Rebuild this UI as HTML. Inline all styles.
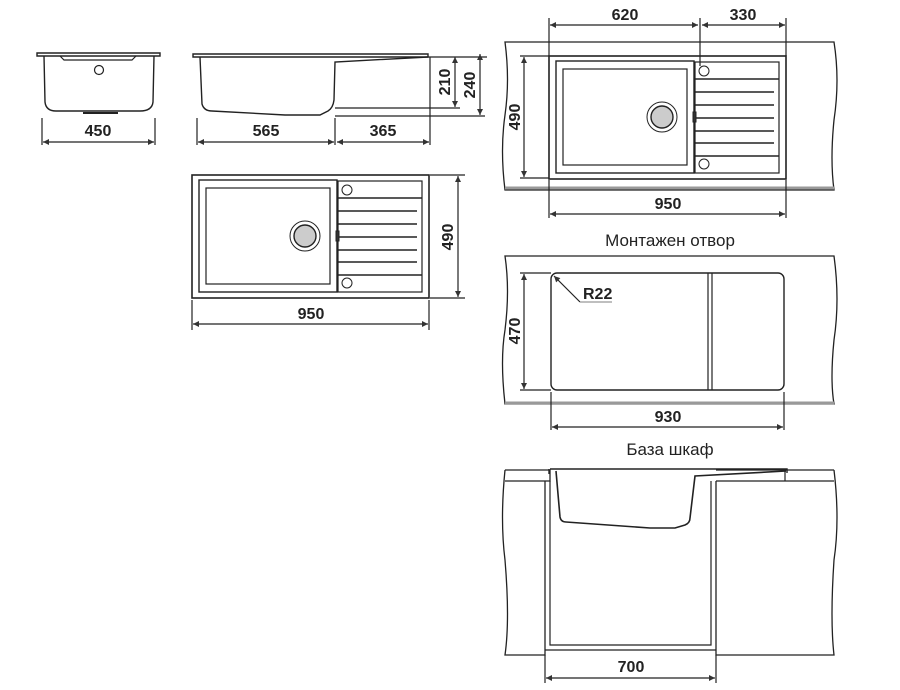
<!DOCTYPE html>
<html><head><meta charset="utf-8"><style>
html,body{margin:0;padding:0;background:#fff}
svg{display:block}
text{font-family:"Liberation Sans",sans-serif;fill:#222}
.b{font-weight:bold;font-size:16px}
</style></head><body>
<svg width="900" height="690" viewBox="0 0 900 690" xmlns="http://www.w3.org/2000/svg">
<defs>
<marker id="a" viewBox="0 0 10 10" refX="10" refY="5" markerWidth="7" markerHeight="5" orient="auto-start-reverse"><path d="M0,0L10,5L0,10z" fill="#333"/></marker>
<g id="plan" fill="none" stroke="#222">
<rect x="0" y="0" width="237" height="123" stroke-width="1.6"/>
<rect x="7" y="5" width="138" height="112" stroke-width="1.4"/>
<rect x="14" y="13" width="124" height="96" stroke-width="1.2"/>
<rect x="146" y="6" width="84" height="111" stroke-width="1.2"/>
<path d="M146,23H230M146,36H225M146,49H225M146,62H225M146,75H225M146,87H225M146,100H230" stroke-width="1.5"/>
<circle cx="155" cy="15" r="5"/><circle cx="155" cy="108" r="5"/>
<circle cx="113" cy="61" r="15"/><circle cx="113" cy="61" r="11" fill="#ccc" stroke-width="1.4"/>
<rect x="144" y="56" width="3" height="10" fill="#333"/>
</g>
</defs>
<g fill="none" stroke="#222" stroke-width="1.2">
<path d="M37,53H160V56H37Z" stroke-width="1.4"/>
<path d="M44,56L45,102Q46,111 56,111H140Q152,111 153,102L154,56" stroke-width="1.4"/>
<path d="M60,56L64,60H132L136,56" />
<circle cx="99" cy="70" r="4.5"/>
<path d="M83,113H118" stroke-width="2"/>
<path d="M42,118V145M155,118V145"/>
<line x1="43" y1="142" x2="154" y2="142" marker-start="url(#a)" marker-end="url(#a)"/>
<path d="M193,54H428V57H193Z" stroke-width="1.4"/>
<path d="M200,57L202,104Q204,111 212,111L285,115H320L328,111Q333,108 334,100L335,62L428,57" stroke-width="1.4"/>
<path d="M335,108H460M335,116H485M428,57H487M430,57V145M335,118V145M197,118V145"/>
<line x1="455" y1="57" x2="455" y2="107" marker-start="url(#a)" marker-end="url(#a)"/>
<line x1="480" y1="54" x2="480" y2="115" marker-start="url(#a)" marker-end="url(#a)"/>
<line x1="198" y1="142" x2="334" y2="142" marker-start="url(#a)" marker-end="url(#a)"/>
<line x1="337" y1="142" x2="429" y2="142" marker-start="url(#a)" marker-end="url(#a)"/>
<path d="M430,175H465M430,298H465M192,300V330M429,300V330"/>
<line x1="458" y1="176" x2="458" y2="297" marker-start="url(#a)" marker-end="url(#a)"/>
<line x1="193" y1="324" x2="428" y2="324" marker-start="url(#a)" marker-end="url(#a)"/>
<path d="M505,42H834Q840,80 834,120Q830,160 834,190H505Q500,150 505,115Q510,80 505,42Z" stroke-width="1.3"/>
<path d="M505,188H834" stroke="#999" stroke-width="3"/>
<path d="M549,18V56M786,18V56M700,18V66M549,180V218M786,180V218M520,56H549M520,178H549"/>
<line x1="550" y1="25" x2="698" y2="25" marker-start="url(#a)" marker-end="url(#a)"/>
<line x1="702" y1="25" x2="785" y2="25" marker-start="url(#a)" marker-end="url(#a)"/>
<line x1="524" y1="57" x2="524" y2="177" marker-start="url(#a)" marker-end="url(#a)"/>
<line x1="550" y1="214" x2="785" y2="214" marker-start="url(#a)" marker-end="url(#a)"/>
<path d="M505,256H834Q840,300 834,340Q830,380 834,404H505Q500,360 505,330Q510,290 505,256Z" stroke-width="1.3"/>
<path d="M505,403H834" stroke="#999" stroke-width="3"/>
<rect x="551" y="273" width="233" height="117" rx="6" stroke-width="1.4"/>
<path d="M708,273V390M712,273V390"/>
<path d="M520,273H551M520,390H551M551,392V430M784,392V430"/>
<line x1="524" y1="274" x2="524" y2="389" marker-start="url(#a)" marker-end="url(#a)"/>
<line x1="552" y1="427" x2="783" y2="427" marker-start="url(#a)" marker-end="url(#a)"/>
<line x1="580" y1="302" x2="554" y2="276" marker-end="url(#a)"/>
<path d="M580,302H612" stroke="#999"/>
<path d="M505,470H550V481H505M505,470Q500,520 505,560Q510,620 505,655H545V481" stroke-width="1.3"/>
<path d="M834,470H716M716,481H834M834,470Q840,520 834,560Q830,620 834,655H716V481" stroke-width="1.3"/>
<path d="M545,650H716M550,481V645H711V481" />
<path d="M550,469H787V473M549,469V474" stroke-width="1.4"/>
<path d="M556,471L560,517Q561,522 566,522L650,528H675L685,525Q690,523 690,518L695,476L786,471" stroke-width="1.6"/>
<path d="M785,471V481"/>
<path d="M545,655V683M716,655V683"/>
<line x1="546" y1="678" x2="715" y2="678" marker-start="url(#a)" marker-end="url(#a)"/>
</g>
<use href="#plan" x="192" y="175"/>
<use href="#plan" x="549" y="56"/>
<text class="b" x="98" y="136" text-anchor="middle">450</text>
<text class="b" x="266" y="136" text-anchor="middle">565</text>
<text class="b" x="383" y="136" text-anchor="middle">365</text>
<text class="b" transform="translate(450,82) rotate(-90)" text-anchor="middle">210</text>
<text class="b" transform="translate(475,85) rotate(-90)" text-anchor="middle">240</text>
<text class="b" transform="translate(453,237) rotate(-90)" text-anchor="middle">490</text>
<text class="b" x="311" y="319" text-anchor="middle">950</text>
<text class="b" x="625" y="20" text-anchor="middle">620</text>
<text class="b" x="743" y="20" text-anchor="middle">330</text>
<text class="b" transform="translate(520,117) rotate(-90)" text-anchor="middle">490</text>
<text class="b" x="668" y="209" text-anchor="middle">950</text>
<text x="670" y="246" font-size="17" text-anchor="middle">Монтажен отвор</text>
<text class="b" x="583" y="299" font-size="14">R22</text>
<text class="b" transform="translate(520,331) rotate(-90)" text-anchor="middle">470</text>
<text class="b" x="668" y="422" text-anchor="middle">930</text>
<text x="670" y="455" font-size="17" text-anchor="middle">База шкаф</text>
<text class="b" x="631" y="672" text-anchor="middle">700</text>
</svg>
</body></html>
